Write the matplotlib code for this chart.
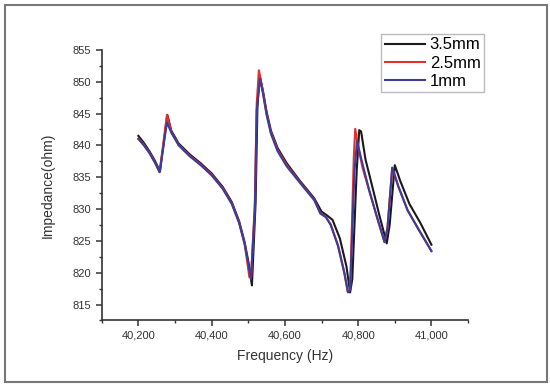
import matplotlib.pyplot as plt
from matplotlib.patches import Rectangle
from matplotlib.ticker import FuncFormatter, MultipleLocator

plt.rcParams['font.family'] = ['Liberation Sans', 'DejaVu Sans']

# 3.5 mm
freq_35 = [40200, 40215, 40230, 40245, 40259, 40279, 40290, 40310, 40340, 40370,
           40400, 40430, 40455, 40475, 40490, 40500, 40510, 40520, 40525, 40531,
           40540, 40550, 40562, 40580, 40605, 40640, 40680, 40700, 40715, 40730,
           40750, 40768, 40778, 40784, 40796, 40803, 40808, 40820, 40840, 40858,
           40878, 40886, 40900, 40915, 40940, 40970, 41000]
imp_35 = [841.5, 840.4, 839.1, 837.6, 835.9, 844.8, 842.3, 840.3, 838.6, 837.2,
          835.6, 833.5, 831.1, 828.1, 824.8, 821.8, 818.0, 831.0, 846.0, 851.0,
          848.6, 845.3, 842.3, 839.6, 837.2, 834.5, 831.7, 829.6, 829.0, 828.3,
          825.4, 821.0, 816.9, 819.0, 836.0, 842.4, 842.2, 837.8, 833.2, 829.0,
          824.6, 827.5, 836.9, 834.4, 830.8, 827.8, 824.4]

# 2.5 mm
freq_25 = [40200, 40215, 40230, 40245, 40258, 40278, 40290, 40310, 40340, 40370,
           40400, 40430, 40455, 40475, 40490, 40503, 40508, 40518, 40523, 40529,
           40540, 40550, 40562, 40580, 40605, 40640, 40680, 40697, 40712, 40725,
           40745, 40762, 40772, 40778, 40788, 40792, 40800, 40812, 40830, 40850,
           40872, 40880, 40893, 40910, 40935, 40965, 41000]
imp_25 = [841.1, 840.1, 838.9, 837.4, 835.8, 844.8, 842.1, 840.1, 838.4, 837.0,
          835.4, 833.3, 830.9, 827.9, 824.6, 819.3, 819.4, 831.0, 846.5, 851.8,
          848.4, 845.0, 842.0, 839.3, 836.9, 834.3, 831.5, 829.3, 828.8, 827.6,
          824.3, 820.1, 817.0, 817.3, 838.0, 842.6, 839.8, 836.5, 832.9, 829.0,
          824.8, 827.0, 836.5, 833.5, 829.8, 826.8, 823.4]

# 1 mm
freq_1 = [40200, 40215, 40230, 40245, 40258, 40278, 40290, 40310, 40340, 40370,
          40400, 40430, 40455, 40475, 40490, 40500, 40507, 40518, 40523, 40532,
          40540, 40550, 40562, 40580, 40605, 40640, 40680, 40697, 40712, 40725,
          40745, 40762, 40772, 40778, 40790, 40797, 40810, 40830, 40850, 40872,
          40880, 40893, 40910, 40935, 40965, 41000]
imp_1 = [841.0, 840.0, 838.8, 837.3, 835.8, 843.6, 842.0, 840.0, 838.3, 836.9,
         835.3, 833.2, 830.8, 827.8, 824.5, 821.5, 819.0, 830.0, 845.5, 850.5,
         848.2, 844.8, 841.8, 839.1, 836.7, 834.2, 831.4, 829.3, 828.7, 827.5,
         824.2, 820.0, 816.9, 817.2, 836.0, 840.7, 837.5, 833.0, 829.0, 824.8,
         827.0, 836.5, 833.5, 829.8, 826.8, 823.4]

fig = plt.figure(figsize=(5.5, 3.87), dpi=100)
ax = fig.add_axes([0.185, 0.172, 0.666, 0.699])

ax.plot(freq_35, imp_35, color='#1a1a1a', lw=1.5, label='3.5mm')
ax.plot(freq_25, imp_25, color='#e03030', lw=1.5, label='2.5mm')
ax.plot(freq_1, imp_1, color='#3c3c9c', lw=1.5, label='1mm')

ax.set_xlim(40100, 41100)
ax.set_ylim(812.5, 855)
ax.xaxis.set_major_locator(MultipleLocator(200))
ax.xaxis.set_minor_locator(MultipleLocator(100))
ax.yaxis.set_major_locator(MultipleLocator(5))
ax.yaxis.set_minor_locator(MultipleLocator(2.5))
ax.xaxis.set_major_formatter(FuncFormatter(lambda v, p: f'{v:,.0f}'))

for s in ['top', 'right']:
    ax.spines[s].set_visible(False)
for s in ['left', 'bottom']:
    ax.spines[s].set_color('#333333')
    ax.spines[s].set_linewidth(1.2)
ax.tick_params(which='major', length=4, width=1.1, color='#333333',
               labelsize=8, labelcolor='#333333')
ax.tick_params(which='minor', length=2.5, width=1.0, color='#333333')

ax.set_xlabel('Frequency (Hz)', fontsize=10, color='#333333', labelpad=6)
ax.set_ylabel('Impedance(ohm)', fontsize=10, color='#333333', labelpad=13)

fig.legend(loc='upper right', bbox_to_anchor=(0.88, 0.912), borderaxespad=0,
           fontsize=12, handlelength=2.4, handletextpad=0.3, labelspacing=0.2,
           fancybox=False, edgecolor='#bbbbbb', framealpha=1, borderpad=0.2)

fig.patches.append(Rectangle((5 / 550, 5 / 387), 542 / 550, 377 / 387,
                             transform=fig.transFigure, fill=False,
                             edgecolor='#777777', lw=1.5))

fig.savefig('out.png', dpi=100)
